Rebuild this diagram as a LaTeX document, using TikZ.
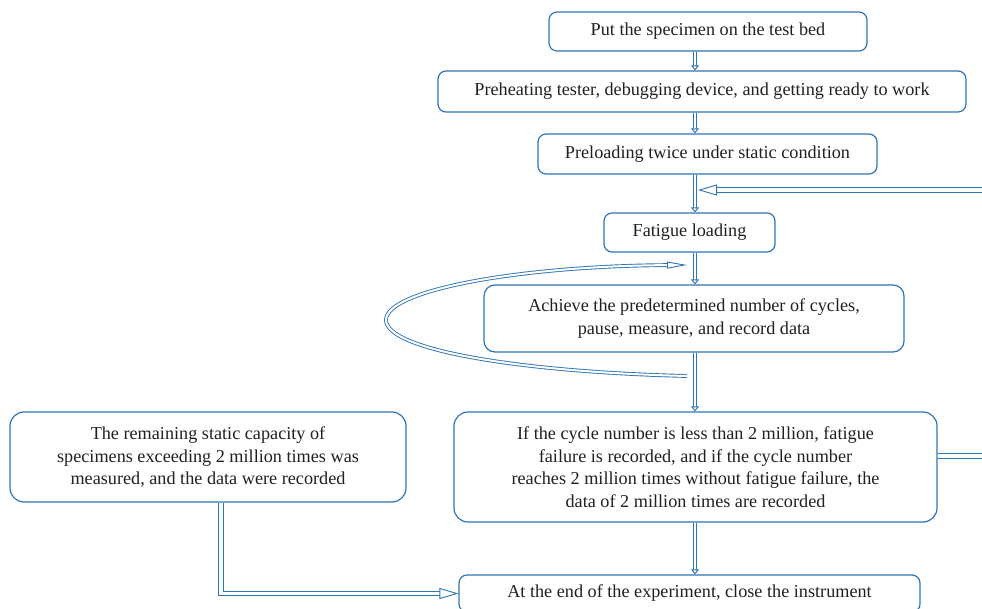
\documentclass[tikz,border=0pt]{standalone}
\usepackage{fontspec}
\setmainfont{Liberation Serif}
\usetikzlibrary{arrows.meta}
\definecolor{flowblue}{RGB}{46,117,182}
\definecolor{inktext}{RGB}{35,31,32}
\begin{document}
\begin{tikzpicture}[x=1pt,y=-1pt,
  box/.style={draw=flowblue, line width=1.2pt, rounded corners=11pt, align=center,
    font=\fontsize{18.2}{22.5}\selectfont, text=inktext, inner sep=0pt},
  dblshaft/.style={draw=flowblue, line width=0.9pt, double=white, double distance=#1},
  downarrow/.style={dblshaft=2.4pt, -{Triangle[fill=white, length=5pt, width=8pt, line width=0.9pt]}},
  longarrow/.style={dblshaft=#1, -{Triangle[fill=white, length=19pt, width=11pt, line width=0.9pt]}},
]
\useasboundingbox (0,0) rectangle (982,609);

% main column of steps
\node[box, rounded corners=8pt, minimum width=318pt, minimum height=39pt] (put) at (708,31.5)
  {Put the specimen on the test bed};
\node[box, rounded corners=8pt, minimum width=528pt, minimum height=41pt] (heat) at (702,91.5)
  {Preheating tester, debugging device, and getting ready to work};
\node[box, rounded corners=8pt, minimum width=339pt, minimum height=40pt] (preload) at (707.5,154)
  {Preloading twice under static condition};
\node[box, rounded corners=8pt, minimum width=171pt, minimum height=39pt] (fatigue) at (689.5,232.5)
  {Fatigue loading};
\node[box, minimum width=420pt, minimum height=67pt] (cycles) at (694,318.5)
  {Achieve the predetermined number of cycles,\\ pause, measure, and record data};
\node[box, rounded corners=14pt, minimum width=483pt, minimum height=110pt] (check) at (695.5,467)
  {If the cycle number is less than 2 million, fatigue\\ failure is recorded, and if the cycle number\\
   reaches 2 million times without fatigue failure, the\\ data of 2 million times are recorded};
\node[box, rounded corners=14pt, minimum width=396pt, minimum height=90pt] (remain) at (208,457)
  {The remaining static capacity of\\ specimens exceeding 2 million times was\\ measured, and the data were recorded};
\node[box, rounded corners=8pt, minimum width=461pt, minimum height=37pt] (final) at (689.5,593.5)
  {At the end of the experiment, close the instrument};

% reference points for the connectors
\coordinate (spine) at (695,0);
\coordinate (leftdrop) at (221,0);
\coordinate (returnin) at (990,190);
\coordinate (returnout) at (990,456);
\coordinate (loopstart) at (687,376);
\coordinate (loopend) at (687,265);

% straight flow down the column
\draw[downarrow] (put.south -| spine) -- (heat.north -| spine);
\draw[downarrow] (heat.south -| spine) -- (preload.north -| spine);
\draw[downarrow] (preload.south -| spine) -- (fatigue.north -| spine);
\draw[downarrow] (fatigue.south -| spine) -- (cycles.north -| spine);
\draw[downarrow] (cycles.south -| spine) -- (check.north -| spine);
\draw[downarrow] (check.south -| spine) -- (final.north -| spine);

% return path entering from the right
\draw[longarrow=4.2pt] (returnin) -- ([xshift=3pt]spine |- returnin);
\draw[dblshaft=4.2pt] (check.east |- returnout) -- (returnout);

% repeated loading loop
\draw[longarrow=2pt, -{Triangle[fill=white, length=20pt, width=7pt, line width=0.9pt]}]
  (loopstart) .. controls (520,372) and (386,350) .. (386,320)
  .. controls (386,290) and (520,266) .. (loopend);

% remaining capacity result to the end step
\draw[longarrow=3.6pt] (remain.south -| leftdrop) |- (final.west);
\end{tikzpicture}
\end{document}
